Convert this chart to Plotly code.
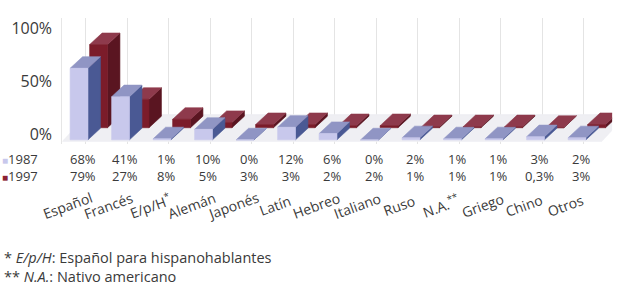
import plotly.graph_objects as go

categories = ["Español", "Francés", "E/p/H<sup>*</sup>", "Alemán", "Japonés", "Latín", "Hebreo",
              "Italiano", "Ruso", "N.A.<sup>**</sup>", "Griego", "Chino", "Otros"]
v1987 = [68, 41, 1, 10, 0, 12, 6, 0, 2, 1, 1, 3, 2]
v1997 = [79, 27, 8, 5, 3, 3, 2, 2, 1, 1, 1, 0.3, 3]
lab1987 = ["68%", "41%", "1%", "10%", "0%", "12%", "6%", "0%", "2%", "1%", "1%", "3%", "2%"]
lab1997 = ["79%", "27%", "8%", "5%", "3%", "3%", "2%", "2%", "1%", "1%", "1%", "0,3%", "3%"]
series_names = ["1987", "1997"]
yticks = [0, 50, 100]
yticklabels = ["0%", "50%", "100%"]
footnotes = ["* <i>E/p/H</i>: Español para hispanohablantes",
             "** <i>N.A.</i>: Nativo americano"]

xs = list(range(len(categories)))
FONT = "Open Sans"
TXT = "#3a3a3a"
W, H = 621, 285

# pseudo-3D styling (category units / value units)
FW = 0.43   # front face width
DX = 0.30   # depth shift in x
DY = 11     # depth shift in y

fig = go.Figure()


def poly_trace(polys, color):
    px, py = [], []
    for p in polys:
        for (a, b) in p:
            px.append(a)
            py.append(b)
        px.append(p[0][0])
        py.append(p[0][1])
        px.append(None)
        py.append(None)
    fig.add_trace(go.Scatter(x=px, y=py, mode="lines", fill="toself", fillcolor=color,
                             line=dict(width=0.6, color=color), hoverinfo="skip"))


def add_boxes(values, off, lift, front, side, top):
    fronts, sides, tops = [], [], []
    for i, v in zip(xs, values):
        x0 = i + off
        x1 = x0 + FW
        y0 = lift
        y1 = lift + v
        fronts.append([(x0, y0), (x1, y0), (x1, y1), (x0, y1)])
        sides.append([(x1, y0), (x1 + DX, y0 + DY), (x1 + DX, y1 + DY), (x1, y1)])
        tops.append([(x0, y1), (x1, y1), (x1 + DX, y1 + DY), (x0 + DX, y1 + DY)])
    poly_trace(sides, side)
    poly_trace(tops, top)
    poly_trace(fronts, front)


# floor (light parallelogram under the bars)
L1 = -5.5
floor = [[(-0.5, L1 - 1.5), (12.5, L1 - 1.5), (12.5 + 2 * DX, L1 + 2 * DY + 2),
          (-0.5 + 2 * DX, L1 + 2 * DY + 2)]]
poly_trace(floor, "#efeff3")

# 1997 behind, 1987 in front
add_boxes(v1997, 0.16, L1 + DY + 0.5, "#7b1c2a", "#5a1521", "#8e3a4c")
add_boxes(v1987, -0.31, L1, "#c8c8ec", "#4a5994", "#9095c4")

ann = []


def px_y(p):
    return 1 - p / H


for i in xs:
    ann.append(dict(x=i, y=px_y(167.5), xref="x", yref="paper",
                    text=f"{lab1987[i]}<br>{lab1997[i]}", showarrow=False,
                    yanchor="middle", align="center", font=dict(family=FONT, size=13, color=TXT)))
    ann.append(dict(x=i - 0.38, y=px_y(206), xref="x", yref="paper", text=categories[i],
                    showarrow=False, textangle=-20, xanchor="center", yanchor="middle",
                    font=dict(family=FONT, size=14, color=TXT)))

legend_txt = (f"<span style='color:#c8c8ec;font-size:10px'>■</span>{series_names[0]}<br>"
              f"<span style='color:#8b2233;font-size:10px'>■</span>{series_names[1]}")
ann.append(dict(x=0, y=px_y(167.5), xref="paper", yref="paper", xanchor="left", yanchor="middle",
                align="left", text=legend_txt, showarrow=False,
                font=dict(family=FONT, size=13, color=TXT)))

ann.append(dict(x=2 / W, y=px_y(268), xref="paper", yref="paper", xanchor="left", yanchor="middle",
                align="left", text="<br>".join(footnotes), showarrow=False,
                font=dict(family=FONT, size=14.5, color=TXT)))

PXU = 1.06                  # pixels per value unit
Y0PX = 134                  # pixel of value 0
ymin, ymax = -9, 110
XPX0, XPXU = 62.25, 41.5    # pixel of x=-0.5, pixels per category
xmax = 12.75
fig.update_layout(
    width=W, height=H, margin=dict(l=0, r=0, t=0, b=0),
    paper_bgcolor="white", plot_bgcolor="white", showlegend=False,
    xaxis=dict(domain=[XPX0 / W, (XPX0 + (xmax + 0.5) * XPXU) / W], range=[-0.5, xmax],
               tickvals=[i + 0.07 for i in xs], showticklabels=False, ticks="",
               showgrid=True, gridcolor="#e4e4e4", gridwidth=1, zeroline=False,
               showline=False),
    yaxis=dict(domain=[(H - (Y0PX - ymin * PXU)) / H, (H - (Y0PX - ymax * PXU)) / H],
               range=[ymin, ymax],
               tickvals=yticks, ticktext=yticklabels, showgrid=False, zeroline=False,
               showline=True, linecolor="#e6e6e6", linewidth=1, ticks="", ticklabelstandoff=6,
               tickfont=dict(family=FONT, size=16, color=TXT)),
    annotations=ann,
)

fig.write_html("out.html", config={"displayModeBar": False},
               post_script="document.body.style.margin='0';document.body.style.overflow='hidden';")
